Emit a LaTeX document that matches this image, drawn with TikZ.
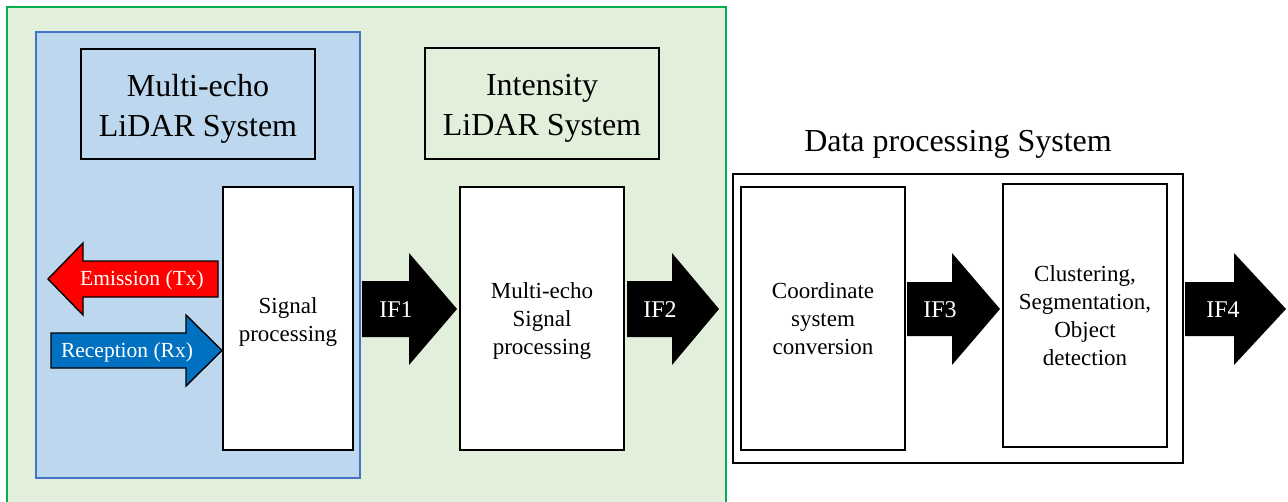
\documentclass[tikz,border=0pt]{standalone}
\usepackage{fontspec}
\setmainfont{Liberation Serif}
\definecolor{panelgreen}{HTML}{E2EFDA}
\definecolor{edgegreen}{HTML}{00B050}
\definecolor{panelblue}{HTML}{BDD7EE}
\definecolor{edgeblue}{HTML}{4472C4}
\definecolor{rxblue}{HTML}{0070C0}
\definecolor{txred}{HTML}{FF0000}
% centred lines of text inside a block
\newcommand{\stackedtext}[1]{\begin{tabular}{@{}c@{}}#1\end{tabular}}
\tikzset{
  titlebox/.style={draw=black, line width=1.8pt, inner sep=0pt,
    minimum width=234pt, minimum height=110pt},
  titletext/.style={inner sep=0pt, font=\rmfamily\fontsize{32}{40}\selectfont},
  procbox/.style={draw=black, fill=white, line width=1.8pt, inner sep=0pt,
    minimum width=164pt, minimum height=263pt},
  proctext/.style={inner sep=0pt, font=\rmfamily\fontsize{23}{28}\selectfont},
  fatarrow/.style={fill=black},
  iflabel/.style={text=white, inner sep=0pt, font=\rmfamily\fontsize{24}{28}\selectfont},
  sidearrow/.style={draw=black, line width=1.4pt, line join=miter},
  sidelabel/.style={text=white, inner sep=0pt, font=\rmfamily\fontsize{21.5}{26}\selectfont},
}
\begin{document}
\begin{tikzpicture}[x=1pt, y=-1pt]
\useasboundingbox (0,0) rectangle (1288,501);
\fill[white] (0,0) rectangle (1288,501);

% LiDAR panels
\begin{scope}
  \clip (0,0) rectangle (1288,501);
  \draw[fill=panelgreen, draw=edgegreen, line width=2pt] (7,7) rectangle (726,520);
\end{scope}
\draw[fill=panelblue, draw=edgeblue, line width=1.6pt] (36,32) rectangle (360,478);

% Titles
\node[titlebox] (mtitle) at (198,104) {};
\node[titletext] (mtitletext) at ([yshift=-4pt]mtitle.center) {\stackedtext{Multi-echo\\LiDAR System}};
\node[titlebox, minimum height=111pt] (ititle) at (542,103.5) {};
\node[titletext] (ititletext) at ([yshift=-4pt]ititle.center) {\stackedtext{Intensity\\LiDAR System}};
\node[titletext] (dtitle) at (958,144) {Data processing System};

% Data processing frame
\node[draw=black, line width=1.8pt, minimum width=450pt, minimum height=289pt, inner sep=0pt] (dframe) at (958,318.5) {};

% Processing blocks
\node[procbox, minimum width=130pt] (sig) at (288,318.5) {};
\node[proctext] (sigtext) at ([yshift=-3pt]sig.center) {\stackedtext{Signal\\processing}};
\node[procbox] (mesp) at (542,318.5) {};
\node[proctext] (mesptext) at ([yshift=-2pt]mesp.center) {\stackedtext{Multi-echo\\Signal\\processing}};
\node[procbox] (coord) at (823,318.5) {};
\node[proctext] (coordtext) at ([yshift=-2pt]coord.center) {\stackedtext{Coordinate\\system\\conversion}};
\node[procbox] (clus) at (1085,315.5) {};
\node[proctext] (clustext) at ([yshift=-2.5pt]clus.center) {\stackedtext{Clustering,\\Segmentation,\\Object\\detection}};

% Emission and reception arrows
\filldraw[sidearrow, fill=txred] (218,261) -- (83,261) -- (83,243) -- (48,279)
  -- (83,315) -- (83,297) -- (218,297) -- cycle;
\node[sidelabel] (tx) at (142,280) {Emission (Tx)};
\filldraw[sidearrow, fill=rxblue] (51,333) -- (186,333) -- (186,315) -- (222,350.5)
  -- (186,386) -- (186,368) -- (51,368) -- cycle;
\node[sidelabel] (rx) at (127,352) {Reception (Rx)};

% Interface arrows
\fill[fatarrow] (362,281) -- (409,281) -- (409,253) -- (457,309) -- (409,365) -- (409,337) -- (362,337) -- cycle;
\node[iflabel] (if1) at (396,310) {IF1};
\fill[fatarrow] (627,281) -- (672,281) -- (672,253) -- (719,309) -- (672,365) -- (672,337) -- (627,337) -- cycle;
\node[iflabel] (if2) at (660,310) {IF2};
\fill[fatarrow] (907,282) -- (952,282) -- (952,253) -- (1000,309) -- (952,365) -- (952,336) -- (907,336) -- cycle;
\node[iflabel] (if3) at (940,310) {IF3};
\fill[fatarrow] (1185,282) -- (1234,282) -- (1234,253) -- (1286,309) -- (1234,365) -- (1234,336) -- (1185,336) -- cycle;
\node[iflabel] (if4) at (1223,310) {IF4};
\end{tikzpicture}
\end{document}
